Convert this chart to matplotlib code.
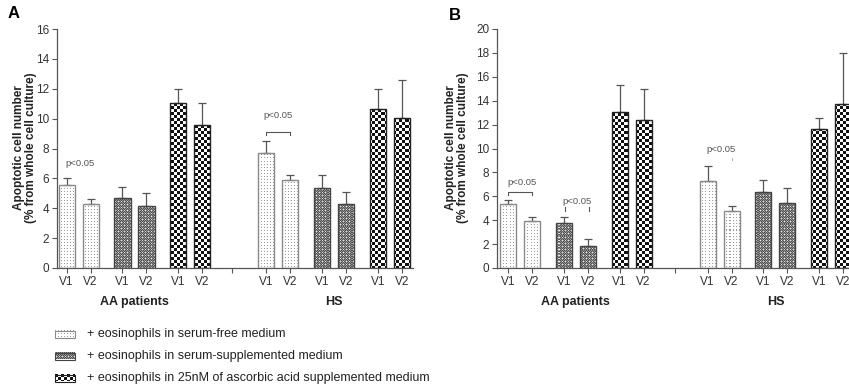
import numpy as np
import matplotlib.pyplot as plt
from matplotlib.patches import Rectangle

plt.rcParams['font.family'] = ['Liberation Sans', 'DejaVu Sans']

# categories
groups = ['AA patients', 'HS']
visits = ['V1', 'V2']
treatments = ['+ eosinophils in serum-free medium',
              '+ eosinophils in serum-supplemented medium',
              '+ eosinophils in 25nM of ascorbic acid supplemented medium']

# values: order is AA V1, AA V2, HS V1, HS V2
# panel A
a_free = [5.55, 4.26, 7.73, 5.88]
a_free_err = [0.45, 0.36, 0.74, 0.37]
a_serum = [4.67, 4.15, 5.35, 4.30]
a_serum_err = [0.73, 0.89, 0.89, 0.82]
a_asc = [11.05, 9.55, 10.67, 10.02]
a_asc_err = [0.95, 1.50, 1.31, 2.54]

# panel B
b_free = [5.35, 3.90, 7.24, 4.79]
b_free_err = [0.35, 0.36, 1.31, 0.41]
b_serum = [3.79, 1.87, 6.35, 5.46]
b_serum_err = [0.47, 0.58, 1.00, 1.23]
b_asc = [13.04, 12.40, 11.59, 13.73]
b_asc_err = [2.31, 2.59, 1.00, 4.24]

W, H, DPI = 849, 387, 100
fig = plt.figure(figsize=(W / DPI, H / DPI), dpi=DPI)


def px_axes(x0, ytop, x1, ybot):
    return fig.add_axes([x0 / W, 1 - ybot / H, (x1 - x0) / W, (ybot - ytop) / H])


def pattern(kind, h, w):
    yy, xx = np.mgrid[0:h, 0:w]
    img = np.ones((h, w, 3))
    if kind == 0:  # light dotted
        img[(xx % 3 == 0) & (yy % 3 == 0)] = 0.6
    elif kind == 1:  # fine dark checker
        img[:] = 0.32
        img[(xx + yy) % 2 == 0] = 0.58
        img[(xx % 3 == 1) & (yy % 3 == 1)] = 0.9
    else:  # coarse black/white checker
        img[((xx // 3) + (yy // 3)) % 2 == 0] = 0.07
    return img


edge_cols = ['#8a8a8a', '#444444', '#222222']


def panel(ax, ymax, series, errs, xl, xr, brk):
    wpx = int(ax.bbox.width)
    hpx = int(ax.bbox.height)
    all_x = []
    for k in range(3):
        xs = [g * 8.33 + k * 2.33 + v for g in (0, 1) for v in (0, 1)]
        all_x += xs
        ax.errorbar(xs, series[k], yerr=[np.zeros(4), errs[k]], fmt='none',
                    ecolor='#555555', elinewidth=0.9, capsize=3, capthick=0.9, zorder=2)
        bars = ax.bar(xs, series[k], width=0.67, facecolor='none',
                      edgecolor=edge_cols[k], linewidth=1.0, zorder=3)
        img = pattern(k, hpx, wpx)
        for b in bars:
            im = ax.imshow(img, extent=(xl, xr, 0, ymax), aspect='auto',
                           interpolation='nearest', zorder=1)
            im.set_clip_path(b)
    ax.set_xlim(xl, xr)
    ax.set_ylim(0, ymax)
    ax.set_yticks(range(0, ymax + 1, 2))
    ticks = sorted(all_x) + [brk]
    labels = [visits[i % 2] for i in range(12)] + ['']
    ax.set_xticks(ticks)
    ax.set_xticklabels(labels)
    for s in ['top', 'right']:
        ax.spines[s].set_visible(False)
    for s in ['left', 'bottom']:
        ax.spines[s].set_color('#555555')
        ax.spines[s].set_linewidth(0.9)
    ax.tick_params(length=3.5, width=0.8, color='#555555', labelcolor='#333333',
                   labelsize=8.5, pad=2)
    tr = ax.get_xaxis_transform()
    for g, name in enumerate(groups):
        ax.text(g * 8.33 + 2.83, -0.142, name, transform=tr, ha='center', va='center',
                fontsize=9, fontweight='bold', color='#222222')


def ptext(ax, x, y):
    ax.text(x, y, 'p<0.05', ha='center', va='center', fontsize=6.8, color='#555555')


axA = px_axes(57, 29, 413, 268)
panel(axA, 16, [a_free, a_serum, a_asc], [a_free_err, a_serum_err, a_asc_err],
      -0.40, 14.44, 6.9)
ptext(axA, 0.55, 7.0)
axA.plot([8.33, 8.33, 9.33, 9.33], [8.9, 9.1, 9.1, 8.9], color='#555555', lw=0.8)
ptext(axA, 8.83, 10.2)

axB = px_axes(497, 29, 853, 268)
panel(axB, 20, [b_free, b_serum, b_asc], [b_free_err, b_serum_err, b_asc_err],
      -0.46, 14.4, 6.96)
axB.plot([0, 0, 1, 1], [6.1, 6.4, 6.4, 6.1], color='#555555', lw=0.8)
ptext(axB, 0.6, 7.15)
axB.plot([2.37, 2.37], [4.75, 5.1], color='#555555', lw=0.8)
axB.plot([3.4, 3.4], [4.75, 5.1], color='#555555', lw=0.8)
ptext(axB, 2.88, 5.57)
axB.plot([9.37, 9.37], [9.0, 9.2], color='#999999', lw=0.6)
ptext(axB, 8.9, 9.9)

ylab = 'Apoptotic cell number\n(% from whole cell culture)'
fig.text(25 / W, 1 - 148 / H, ylab, rotation=90, ha='center', va='center',
         fontsize=8.5, fontweight='bold', color='#222222', linespacing=1.1)
fig.text(457 / W, 1 - 148 / H, ylab, rotation=90, ha='center', va='center',
         fontsize=8.5, fontweight='bold', color='#222222', linespacing=1.1)
fig.text(14 / W, 1 - 14 / H, 'A', ha='center', va='center', fontsize=12, fontweight='bold')
fig.text(455 / W, 1 - 15 / H, 'B', ha='center', va='center', fontsize=12, fontweight='bold')

# legend drawn in pixel coordinates on an overlay
ov = fig.add_axes([0, 0, 1, 1], zorder=-1)
ov.set_xlim(0, W)
ov.set_ylim(H, 0)
ov.set_axis_off()
rows = [334, 356, 378]
for k, label in enumerate(treatments):
    y = rows[k]
    ov.imshow(pattern(k, 7, 20), extent=(55, 75, y + 3.5, y - 3.5), aspect='auto',
              interpolation='nearest')
    ov.add_patch(Rectangle((55, y - 3.5), 20, 7, facecolor='none',
                           edgecolor=edge_cols[k], lw=0.8))
    ov.text(87, y, label, va='center', ha='left', fontsize=9, color='#222222')
ov.set_xlim(0, W)
ov.set_ylim(H, 0)

fig.savefig('out.png', dpi=DPI)
